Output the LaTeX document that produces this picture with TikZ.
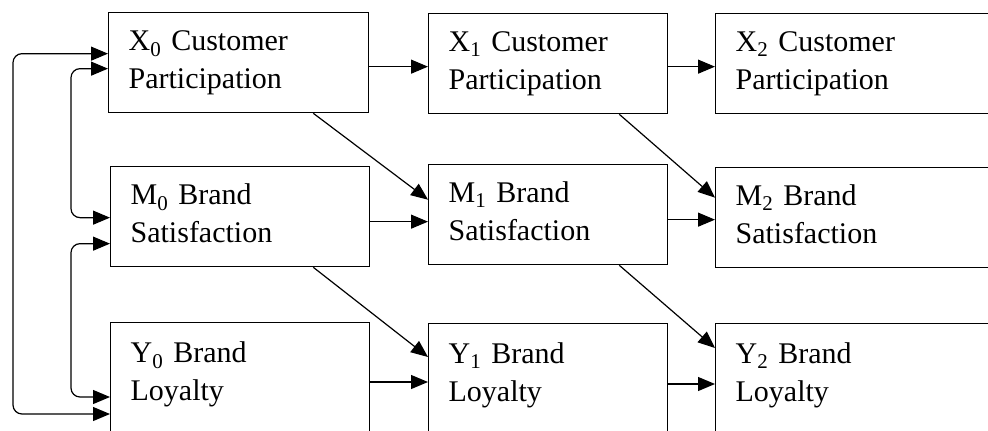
\documentclass[tikz,border=0pt]{standalone}
\usepackage{fontspec}
\setmainfont{Liberation Serif}
\usetikzlibrary{arrows.meta}

\begin{document}
\begin{tikzpicture}[x=1pt,y=-1pt,
  box/.style={draw=black, line width=1.3pt, anchor=north west, inner xsep=20pt, inner ysep=0pt,
    minimum height=100pt, text height=21pt, text depth=45pt, align=left,
    font=\fontsize{30}{38}\selectfont},
  tallbox/.style={box, minimum height=140pt, text depth=81pt},
  arr/.style={-{Triangle[length=17pt,width=14pt]}, line width=1.2pt},
  dblarr/.style={{Triangle[length=17pt,width=14pt]}-{Triangle[length=17pt,width=14pt]}, line width=1.2pt, rounded corners=9pt}]

\useasboundingbox (0,0) rectangle (988,431);
\fill[white] (0,0) rectangle (988,431);
\clip (0,0) rectangle (988,431);

%CUSTOMER PARTICIPATION
\node[box, text width=220pt] (X0) at (108,12) {X\textsubscript{0} Customer\\Participation};
\node[box, text width=199pt] (X1) at (428,13) {X\textsubscript{1} Customer\\Participation};
\node[box, text width=260pt] (X2) at (715,13) {X\textsubscript{2} Customer\\Participation};

%BRAND SATISFACTION
\node[box, text width=219pt] (M0) at (110,166) {M\textsubscript{0} Brand\\Satisfaction};
\node[box, text width=199pt] (M1) at (428,164) {M\textsubscript{1} Brand\\Satisfaction};
\node[box, text width=260pt] (M2) at (715,167) {M\textsubscript{2} Brand\\Satisfaction};

%BRAND LOYALTY
\node[tallbox, text width=219pt] (Y0) at (110,322) {Y\textsubscript{0} Brand\\Loyalty};
\node[tallbox, text width=199pt] (Y1) at (428,323) {Y\textsubscript{1} Brand\\Loyalty};
\node[tallbox, text width=260pt] (Y2) at (715,323) {Y\textsubscript{2} Brand\\Loyalty};

%STABILITY PATHS
\draw[arr] ([yshift=-4pt]X0.east) -- ([yshift=-3pt]X1.west);
\draw[arr] ([yshift=-3pt]X1.east) -- ([yshift=-3pt]X2.west);
\draw[arr] ([yshift=-5pt]M0.east) -- ([yshift=-7pt]M1.west);
\draw[arr] ([yshift=-5pt]M1.east) -- ([yshift=-2pt]M2.west);
\draw[arr] ([yshift=-60pt]Y0.north east) -- ([yshift=-59pt]Y1.north west);
\draw[arr] ([yshift=-61pt]Y1.north east) -- ([yshift=-61pt]Y2.north west);

%CROSS-LAGGED PATHS
\draw[arr] ([xshift=-56pt]X0.south east) -- ([yshift=15pt]M1.west);
\draw[arr] ([xshift=-49pt]X1.south east) -- ([yshift=20pt]M2.west);
\draw[arr] ([xshift=-57pt]M0.south east) -- ([yshift=-34pt]Y1.north west);
\draw[arr] ([xshift=-49pt]M1.south east) -- ([yshift=-25pt]Y2.north west);

%CORRELATIONS AT TIME 0
\draw[dblarr] ([yshift=9pt]X0.west) -- ++(-95,0) |- ([yshift=-92pt]Y0.north west);
\draw[dblarr] ([yshift=-6pt]X0.west) -- ++(-37,0) |- ([yshift=-1pt]M0.west);
\draw[dblarr] ([yshift=-27pt]M0.west) -- ++(-39,0) |- ([yshift=-75pt]Y0.north west);

\end{tikzpicture}
\end{document}
